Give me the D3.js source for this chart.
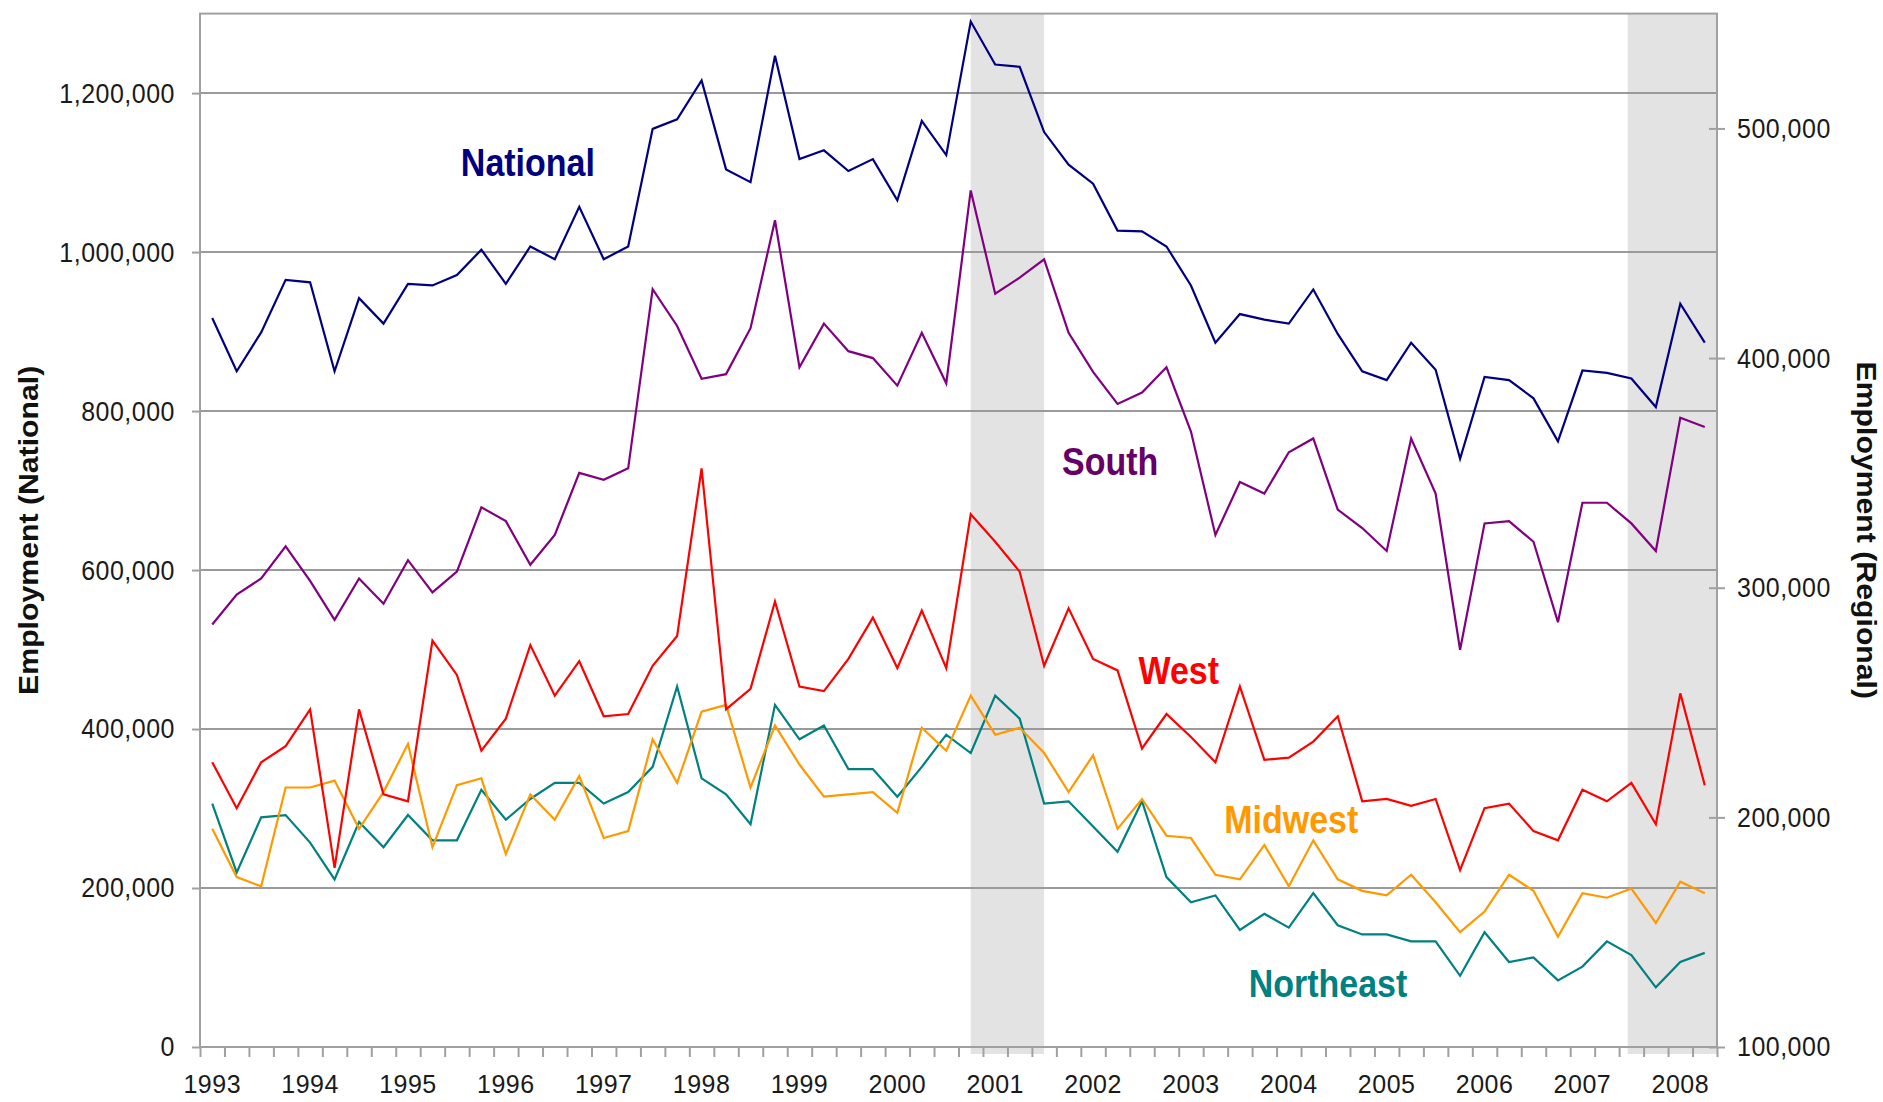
<!DOCTYPE html>
<html>
<head>
<meta charset="utf-8">
<script src="https://cdn.jsdelivr.net/npm/d3@7"></script>
<style>
  body { margin: 0; background: #fff; }
  text { font-family: "Liberation Sans", Arial, sans-serif; }
</style>
</head>
<body>
<div id="chart"></div>
<script>
// quarterly categories, 1993 Q1 .. 2008 Q2
const years = d3.range(1993, 2009);
const quarters = [];
years.forEach(function(y) {
  [1, 2, 3, 4].forEach(function(q) { quarters.push(y + " Q" + q); });
});
quarters.splice(62);

// national employment (left axis)
const national = [917000, 850000, 899000, 965000, 962000, 850000, 942000, 910000, 960000, 958000,
  971000, 1003000, 960000, 1007000, 991000, 1057000, 991000, 1007000, 1155000, 1167000,
  1216000, 1104000, 1088000, 1247000, 1117000, 1128000, 1102000, 1117000, 1065000, 1165000,
  1122000, 1290000, 1236000, 1233000, 1151000, 1110000, 1086000, 1027000, 1026000, 1007000,
  958000, 886000, 922000, 915000, 910000, 953000, 897000, 850000, 839000, 886000,
  852000, 740000, 843000, 839000, 816000, 762000, 851000, 848000, 841000, 805000,
  935000, 886000];

// regional employment (right axis)
const south = [284000, 297000, 304000, 318000, 303000, 286000, 304000, 293000, 312000, 298000,
  307000, 335000, 329000, 310000, 323000, 350000, 347000, 352000, 430000, 414000,
  391000, 393000, 413000, 460000, 396000, 415000, 403000, 400000, 388000, 411000,
  389000, 473000, 428000, 435000, 443000, 411000, 394000, 380000, 385000, 396000,
  368000, 323000, 346000, 341000, 359000, 365000, 334000, 326000, 316000, 365000,
  341000, 273000, 328000, 329000, 320000, 285000, 337000, 337000, 328000, 316000,
  374000, 370000];
const west = [224000, 204000, 224000, 231000, 247000, 178000, 247000, 210000, 207000, 277000,
  262000, 229000, 243000, 275000, 253000, 268000, 244000, 245000, 266000, 279000,
  352000, 247000, 256000, 294000, 257000, 255000, 269000, 287000, 265000, 290000,
  265000, 332000, 320000, 307000, 266000, 291000, 269000, 264000, 230000, 245000,
  235000, 224000, 257000, 225000, 226000, 233000, 244000, 207000, 208000, 205000,
  208000, 177000, 204000, 206000, 194000, 190000, 212000, 207000, 215000, 197000,
  254000, 214000];
const midwest = [195000, 174000, 170000, 213000, 213000, 216000, 195000, 211000, 232000, 187000,
  214000, 217000, 184000, 210000, 199000, 218000, 191000, 194000, 234000, 215000,
  246000, 249000, 213000, 240000, 223000, 209000, 210000, 211000, 202000, 239000,
  229000, 253000, 236000, 239000, 228000, 211000, 227000, 195000, 208000, 192000,
  191000, 175000, 173000, 188000, 170000, 190000, 173000, 168000, 166000, 175000,
  163000, 150000, 159000, 175000, 168000, 148000, 167000, 165000, 169000, 154000,
  172000, 167000];
const northeast = [206000, 176000, 200000, 201000, 189000, 173000, 198000, 187000, 201000, 190000,
  190000, 212000, 199000, 208000, 215000, 215000, 206000, 211000, 222000, 257000,
  217000, 210000, 197000, 249000, 234000, 240000, 221000, 221000, 209000, 222000,
  236000, 228000, 253000, 243000, 206000, 207000, 196000, 185000, 207000, 174000,
  163000, 166000, 151000, 158000, 152000, 167000, 153000, 149000, 149000, 146000,
  146000, 131000, 150000, 137000, 139000, 129000, 135000, 146000, 140000, 126000,
  137000, 141000];

// shaded recession periods, in quarter units
const recessions = [[31.5, 34.5], [58.35, 62]];

// series settings
const series = [
  {name: "National", values: national, axis: "left", line: "#000080", text: "#000080", at: [12.9, 1112000]},
  {name: "South", values: south, axis: "right", line: "#800080", text: "#660066", at: [36.7, 355000]},
  {name: "West", values: west, axis: "right", line: "#ff0000", text: "#ff0000", at: [39.5, 264000]},
  {name: "Midwest", values: midwest, axis: "right", line: "#ff9900", text: "#ff9900", at: [44.1, 199000]},
  {name: "Northeast", values: northeast, axis: "right", line: "#008080", text: "#008080", at: [45.6, 127500]}
];

//set svg parameters
const width = 1883,
      height = 1102;
const margin = {top: 13.6, right: 166, bottom: 55, left: 200};
const plotRight = width - margin.right,
      plotBottom = height - margin.bottom;

const svg = d3.select("#chart")
  .append("svg")
    .attr("width", width)
    .attr("height", height);

// scales
const xq = d3.scaleLinear()
  .domain([0, quarters.length])
  .range([margin.left, plotRight]);
const xBand = d3.scaleBand()
  .domain(d3.range(quarters.length))
  .range([margin.left, plotRight])
  .padding(0);
const yLeft = d3.scaleLinear()
  .domain([0, 1300000])
  .range([plotBottom, margin.top]);
const yRight = d3.scaleLinear()
  .domain([100000, 550000])
  .range([plotBottom, margin.top]);

// recession shading
svg.append("g")
  .selectAll("rect")
  .data(recessions)
  .join("rect")
    .attr("x", d => xq(d[0]))
    .attr("width", d => xq(d[1]) - xq(d[0]))
    .attr("y", margin.top)
    .attr("height", plotBottom - margin.top + 7)
    .attr("fill", "#e3e3e3");

// gridlines
const leftTicks = d3.range(0, 1300001, 200000);
svg.append("g")
  .selectAll("line")
  .data(leftTicks.slice(1))
  .join("line")
    .attr("x1", margin.left)
    .attr("x2", plotRight)
    .attr("y1", d => yLeft(d))
    .attr("y2", d => yLeft(d))
    .attr("stroke", "#9a9a9a")
    .attr("stroke-width", 2);

// plot frame
svg.append("rect")
  .attr("x", margin.left)
  .attr("y", margin.top)
  .attr("width", plotRight - margin.left)
  .attr("height", plotBottom - margin.top)
  .attr("fill", "none")
  .attr("stroke", "#a0a0a0")
  .attr("stroke-width", 2);

const styleAxis = function(g) {
  g.select(".domain").remove();
  g.selectAll(".tick line").attr("stroke", "#a0a0a0").attr("stroke-width", 2);
  g.selectAll(".tick text")
    .attr("fill", "#1a1a1a")
    .style("font-size", "25px")
    .style("letter-spacing", "0.5px")
    .attr("transform", "scale(1,1.12)");
};

// left axis
svg.append("g")
  .attr("transform", `translate(${margin.left},0)`)
  .call(d3.axisLeft(yLeft).tickValues(leftTicks).tickSize(8).tickPadding(17).tickFormat(d3.format(",")))
  .call(styleAxis);

// right axis (ticks cross the frame)
svg.append("g")
  .attr("transform", `translate(${plotRight},0)`)
  .call(d3.axisRight(yRight).tickValues(d3.range(100000, 500001, 100000)).tickSize(8).tickPadding(12).tickFormat(d3.format(",")))
  .call(styleAxis)
  .call(g => g.selectAll(".tick line").attr("x1", -8));

// bottom axis: quarter tick marks
svg.append("g")
  .attr("transform", `translate(0,${plotBottom})`)
  .call(d3.axisBottom(xq).tickValues(d3.range(0, quarters.length + 1)).tickSize(10).tickFormat(""))
  .call(styleAxis);

// bottom axis: year labels at first quarters (no stretch, so they stay inside the page)
svg.append("g")
  .attr("transform", `translate(0,${plotBottom})`)
  .call(d3.axisBottom(xBand)
    .tickValues(d3.range(0, quarters.length, 4))
    .tickSize(0)
    .tickPadding(28)
    .tickFormat(i => quarters[i].slice(0, 4)))
  .call(styleAxis)
  .call(g => g.selectAll(".tick text").attr("transform", null));

// lines
const lineFor = function(s) {
  const y = s.axis === "left" ? yLeft : yRight;
  return d3.line()
    .x((d, i) => xBand(i) + xBand.bandwidth() / 2)
    .y(d => y(d));
};

svg.append("g")
  .selectAll("path")
  .data(series.slice().reverse())
  .join("path")
    .attr("d", s => lineFor(s)(s.values))
    .attr("fill", "none")
    .attr("stroke", s => s.line)
    .attr("stroke-width", 2.2);

// series labels
svg.append("g")
  .selectAll("text")
  .data(series)
  .join("text")
    .attr("transform", s => {
      const y = s.axis === "left" ? yLeft : yRight;
      return `translate(${xq(s.at[0] + 0.5)},${y(s.at[1])}) scale(1,1.12)`;
    })
    .attr("text-anchor", "middle")
    .attr("dominant-baseline", "central")
    .attr("fill", s => s.text)
    .style("font-size", "34px")
    .style("font-weight", "bold")
    .text(s => s.name);

// axis titles
const midY = (margin.top + plotBottom) / 2;
svg.append("text")
  .attr("transform", `translate(29,${midY}) scale(1,1.12) rotate(-90)`)
  .attr("text-anchor", "middle")
  .attr("dominant-baseline", "central")
  .style("font-size", "27px")
  .style("font-weight", "bold")
  .attr("fill", "#111")
  .text("Employment (National)");

svg.append("text")
  .attr("transform", `translate(1866,${midY}) scale(1,1.12) rotate(90)`)
  .attr("text-anchor", "middle")
  .attr("dominant-baseline", "central")
  .style("font-size", "27px")
  .style("font-weight", "bold")
  .attr("fill", "#111")
  .text("Employment (Regional)");
</script>
</body>
</html>
